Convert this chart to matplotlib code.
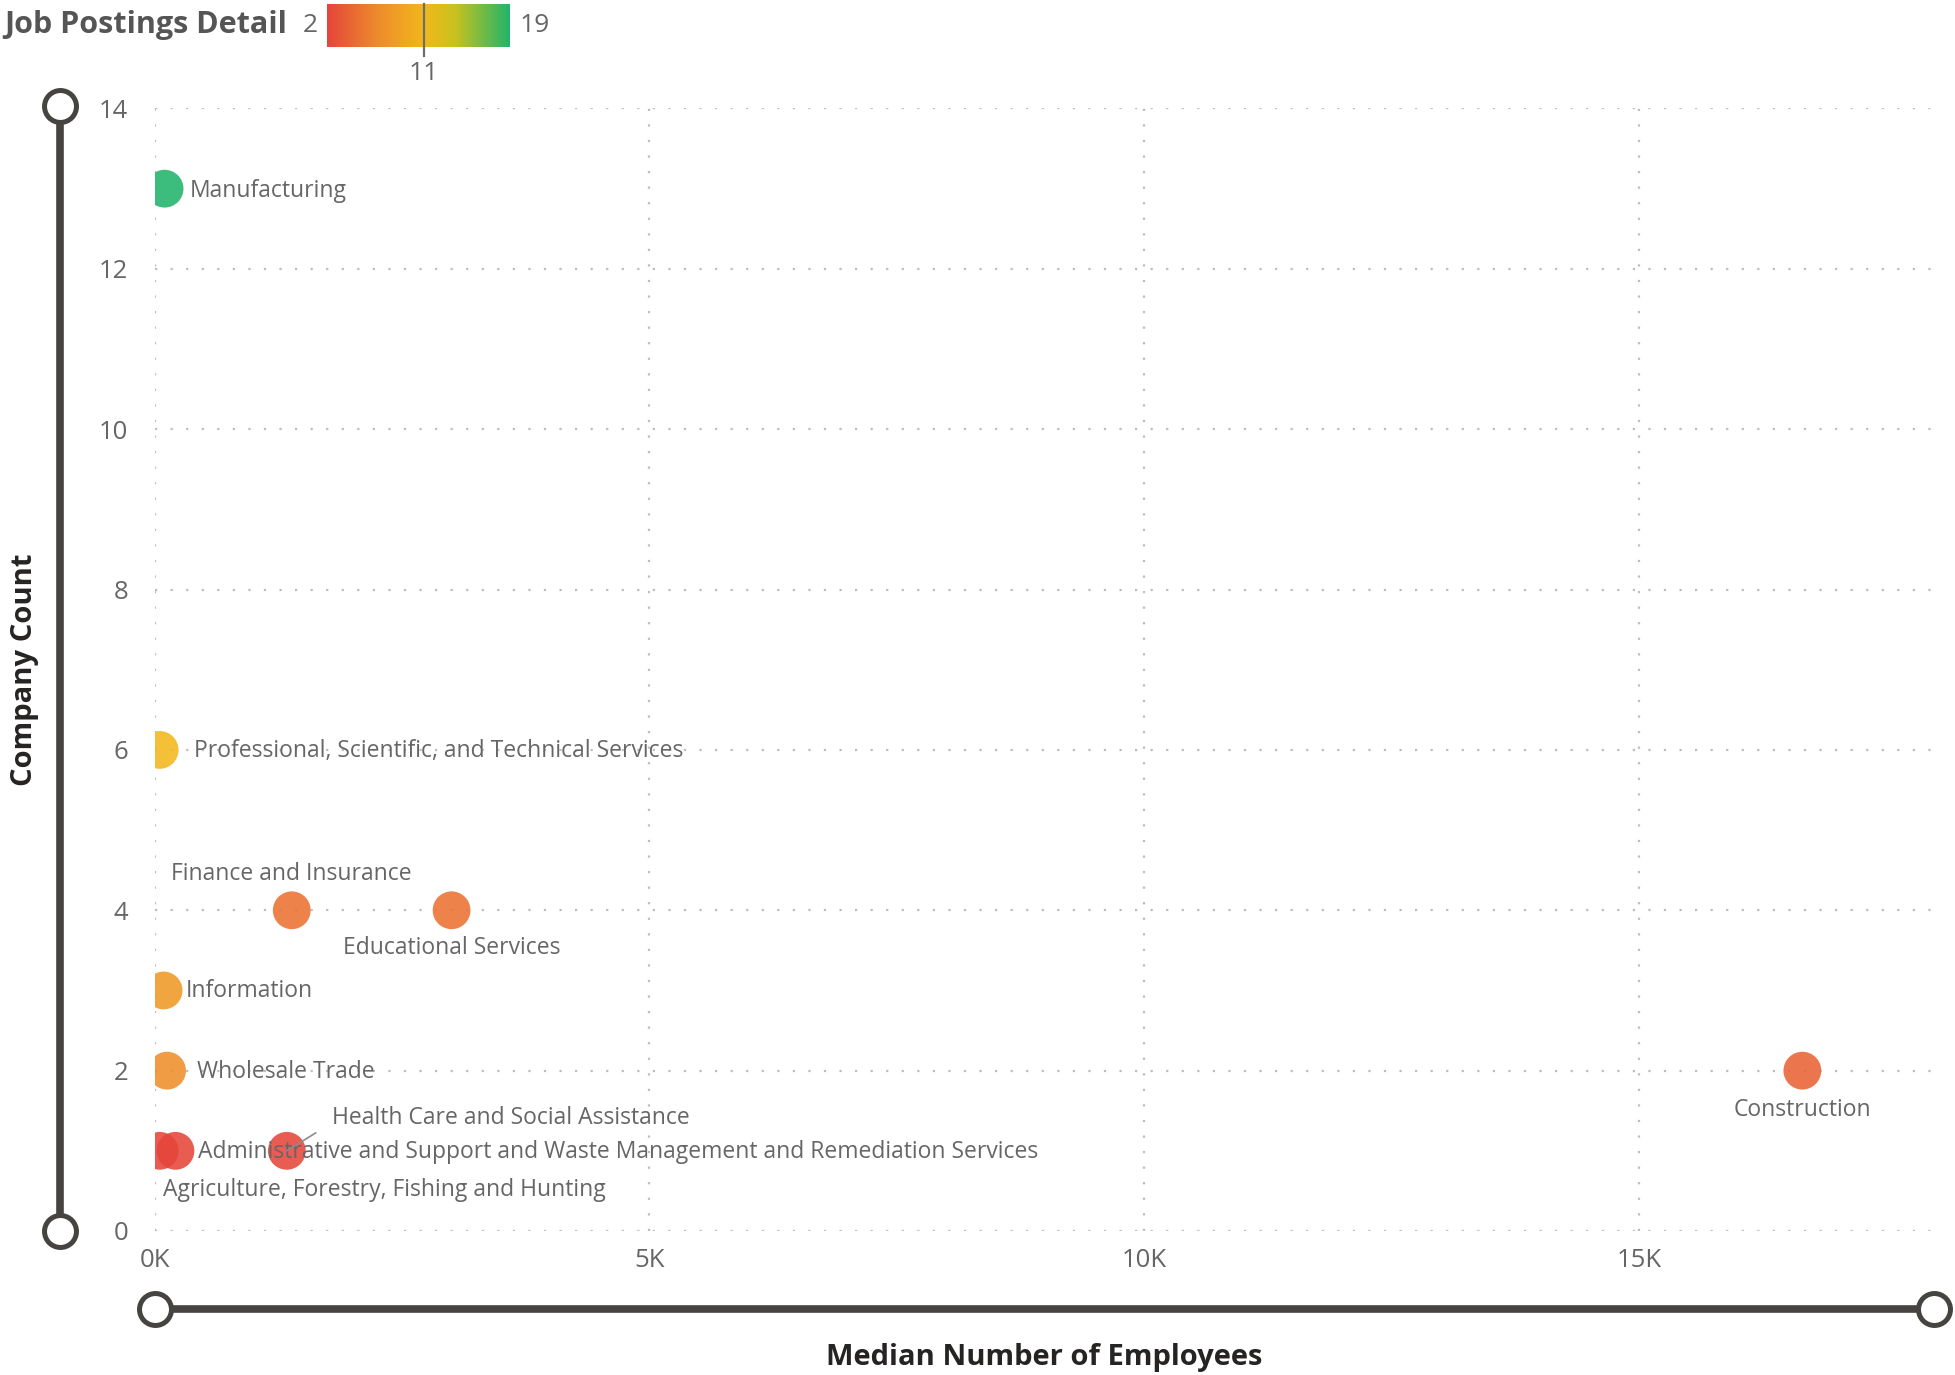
import numpy as np
import matplotlib
matplotlib.use("Agg")
import matplotlib.pyplot as plt
from matplotlib.colors import LinearSegmentedColormap, Normalize
from matplotlib.ticker import FuncFormatter, FixedLocator

plt.rcParams['font.family'] = ['Open Sans', 'DejaVu Sans']

# ---- data -------------------------------------------------------------
industries = [
    "Manufacturing",
    "Professional, Scientific, and Technical Services",
    "Finance and Insurance",
    "Educational Services",
    "Information",
    "Wholesale Trade",
    "Construction",
    "Administrative and Support and Waste Management and Remediation Services",
    "Agriculture, Forestry, Fishing and Hunting",
    "Health Care and Social Assistance",
]
median_employees = [100, 50, 1385, 3000, 90, 125, 16650, 210, 50, 1335]
company_count = [13, 6, 4, 4, 3, 2, 2, 1, 1, 1]
job_postings = [19, 11, 5, 5, 8, 7, 4, 2, 2, 2]

legend_min, legend_mid, legend_max = 2, 11, 19
x_ticks = [0, 5000, 10000, 15000]
y_ticks = [0, 2, 4, 6, 8, 10, 12, 14]

# ---- styling ----------------------------------------------------------
W, H, DPI = 1956, 1375, 100
TICK_C = "#666666"
LABEL_C = "#666666"
TITLE_C = "#252423"

cmap = LinearSegmentedColormap.from_list(
    "postings", [(0.0, "#E5453A"), (0.27, "#EE8A2C"), (0.53, "#F2B81C"),
                 (0.7, "#C9C21F"), (1.0, "#22B46B")])
norm = Normalize(legend_min, legend_max)

# label offsets in pixels (dx, dy, ha, va)
label_layout = {
    "Manufacturing": (25, -2, "left", "center"),
    "Professional, Scientific, and Technical Services": (34, -1, "left", "center"),
    "Finance and Insurance": (0, 36, "center", "center"),
    "Educational Services": (0, -38, "center", "center"),
    "Information": (22, -1, "left", "center"),
    "Wholesale Trade": (30, -1, "left", "center"),
    "Construction": (0, -39, "center", "center"),
    "Administrative and Support and Waste Management and Remediation Services": (23, -1, "left", "center"),
    "Agriculture, Forestry, Fishing and Hunting": (3, -39, "left", "center"),
    "Health Care and Social Assistance": (45, 33, "left", "center"),
}
# short leader lines (dx, dy in pixels from the marker centre)
leaders = {"Health Care and Social Assistance": (29, 18)}

fig = plt.figure(figsize=(W / DPI, H / DPI), dpi=DPI)
fig.patch.set_facecolor("white")

# main plot area (pixel box converted to figure fractions)
x0, x1, ytop, ybot = 154.7, 1931, 108.5, 1231
ax = fig.add_axes([x0 / W, (H - ybot) / H, (x1 - x0) / W, (ybot - ytop) / H])
ax.set_xlim(0, 17950)
ax.set_ylim(0, 14)
for s in ax.spines.values():
    s.set_visible(False)

ax.xaxis.set_major_locator(FixedLocator(x_ticks))
ax.yaxis.set_major_locator(FixedLocator(y_ticks))
ax.xaxis.set_major_formatter(FuncFormatter(lambda v, p: f"{v / 1000:.0f}K"))
ax.tick_params(axis="both", length=0, labelsize=18.5, labelcolor=TICK_C)
ax.tick_params(axis="x", pad=12)
ax.tick_params(axis="y", pad=19)
ax.grid(True, color="#BDBDBD", linestyle=(0, (1, 6)), linewidth=1.6)
ax.set_axisbelow(True)

ax.scatter(median_employees, company_count, c=job_postings, cmap=cmap, norm=norm,
           s=740, alpha=0.88, edgecolors="none", zorder=3)

for name, xv, yv in zip(industries, median_employees, company_count):
    dx, dy, ha, va = label_layout[name]
    ax.annotate(name, (xv, yv), xytext=(dx, dy), textcoords="offset pixels",
                ha=ha, va=va, fontsize=16.5, color=LABEL_C, zorder=4)
    if name in leaders:
        lx, ly = leaders[name]
        ax.annotate("", (xv, yv), xytext=(lx, ly), textcoords="offset pixels",
                    arrowprops=dict(arrowstyle="-", color="#8A8A8A", lw=1.2,
                                    shrinkA=0, shrinkB=0), zorder=4)

# overlay in pixel coordinates for sliders and titles
ov = fig.add_axes([0, 0, 1, 1])
ov.set_xlim(0, W)
ov.set_ylim(H, 0)
ov.axis("off")

SLIDER_C = "#454441"
ov.plot([60, 60], [106, 1231], color=SLIDER_C, lw=5.5, solid_capstyle="butt", zorder=1)
ov.plot([60, 60], [106, 1231], "o", ms=23, mfc="white", mec=SLIDER_C, mew=3.6, zorder=2)
ov.plot([155, 1934], [1308.5, 1308.5], color=SLIDER_C, lw=5.5, solid_capstyle="butt", zorder=1)
ov.plot([155, 1934], [1308.5, 1308.5], "o", ms=23, mfc="white", mec=SLIDER_C, mew=3.6, zorder=2)

ov.text(25, 670, "Company Count", rotation=90, ha="center", va="center",
        fontsize=21, fontweight="bold", color=TITLE_C)
ov.text(1044, 1357, "Median Number of Employees", ha="center", va="center",
        fontsize=21, fontweight="bold", color=TITLE_C)

# colour legend
ov.text(4, 25, "Job Postings Detail", ha="left", va="center",
        fontsize=22, fontweight="bold", color="#555555")
ov.text(318, 25, str(legend_min), ha="right", va="center", fontsize=19, color=TICK_C)
ov.text(520, 25, str(legend_max), ha="left", va="center", fontsize=19, color=TICK_C)

bx0, bx1, by0, by1 = 327, 510, 4, 47
cax = fig.add_axes([bx0 / W, (H - by1) / H, (bx1 - bx0) / W, (by1 - by0) / H])
grad = np.linspace(legend_min, legend_max, 256).reshape(1, -1)
cax.imshow(grad, cmap=cmap, norm=norm, aspect="auto",
           extent=(legend_min, legend_max, 0, 1))
cax.set_xlim(legend_min, legend_max)
cax.set_ylim(0, 1)
cax.axis("off")
cax.plot([legend_mid, legend_mid], [1, -0.2], color="#6E6E6E", lw=1.6, clip_on=False)
cax.annotate(str(legend_mid), (legend_mid, 0), xytext=(0, -27), textcoords="offset pixels",
             ha="center", va="center", fontsize=19, color=TICK_C, annotation_clip=False)

fig.savefig("out.png", dpi=DPI, facecolor="white")
